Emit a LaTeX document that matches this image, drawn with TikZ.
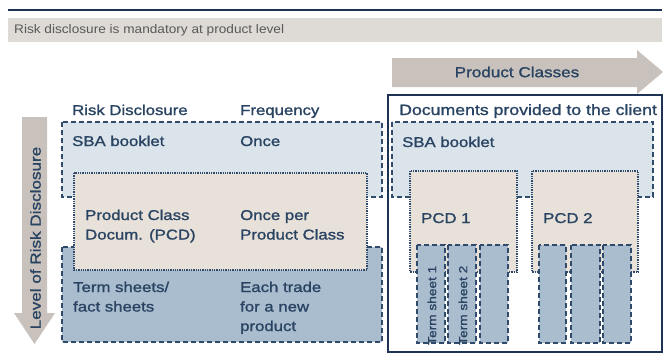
\documentclass[tikz,border=0pt]{standalone}
\usepackage{fontspec}
\setmainfont{Liberation Sans}[FakeStretch=1.18,FakeBold=1.3]
\newfontfamily\bandfont{Liberation Sans}[FakeStretch=1.1]
\usepackage{tikz}
\usetikzlibrary{positioning}
\definecolor{navyc}{HTML}{1E3354}
\definecolor{inkc}{HTML}{294362}
\definecolor{dashc}{HTML}{2F4A6B}
\definecolor{greyc}{HTML}{C9C2BC}
\definecolor{bandc}{HTML}{DEDAD6}
\definecolor{lightc}{HTML}{DCE4EB}
\definecolor{darkc}{HTML}{AABDCE}
\definecolor{beigec}{HTML}{E8E1D9}
\tikzset{
  lbl/.style={anchor=base west,inner sep=0pt,text=inkc,font=\fontsize{14.2}{19.5}\selectfont,align=left},
  dbox/.style={draw=dashc,line width=1.6pt,dash pattern=on 5pt off 3pt},
  pbox/.style={draw=dashc,line width=1.3pt,densely dotted,fill=beigec},
  colbox/.style={dbox,fill=darkc},
  vlbl/.style={inner sep=0pt,text=inkc,rotate=90,anchor=west,font=\fontsize{11.6}{12}\selectfont}
}
\begin{document}
\begin{tikzpicture}[x=1pt,y=-1pt]
\useasboundingbox (0,0) rectangle (671,362);
% banner
\draw[navyc,line width=1.4pt] (8,10) -- (662,10);
\fill[bandc] (8,18) rectangle (662,42);
\node[anchor=west,inner sep=0pt,text=black!65,font=\bandfont\fontsize{12.4}{13}\selectfont] (band) at (14,30) {Risk disclosure is mandatory at product level};
% arrows
\fill[greyc] (392,58) -- (637,58) -- (637,50) -- (663,72) -- (637,94) -- (637,87) -- (392,87) -- cycle;
\node[inkc,font=\fontsize{14.5}{16}\selectfont] (pclass) at (517,72) {Product Classes};
\fill[greyc] (22,117) -- (47,117) -- (47,313) -- (55,313) -- (34.5,344) -- (14,313) -- (22,313) -- cycle;
\node[inkc,rotate=90,font=\fontsize{14.5}{16}\selectfont] (level) at (35.5,238) {Level of Risk Disclosure};
% headers
\node[lbl] (hrisk) at (72,115) {Risk Disclosure};
\node[lbl] (hfreq) at (240,115) {Frequency};
\node[lbl,font=\fontsize{15}{18}\selectfont] (hdocs) at (399,115) {Documents provided to the client};
% left table
\filldraw[dbox,fill=lightc] (62,122) rectangle (382,197);
\filldraw[dbox,fill=darkc] (62,247) rectangle (382,342);
\filldraw[pbox] (74,173) rectangle (367,270);
\node[lbl] (sbaL) at (72,146) {SBA booklet};
\node[lbl] (once) at (240,146) {Once};
\node[lbl] (pcdL) at (85,239.5) {Product Class\\Docum. (PCD)};
\node[lbl] (oncepc) at (240,239.5) {Once per\\Product Class};
\node[lbl] (termL) at (73,311.5) {Term sheets/\\fact sheets};
\node[lbl] (each) at (240,331) {Each trade\\for a new\\product};
% documents provided to the client
\draw[navyc,line width=2.5pt] (388,95) rectangle (662,352);
\filldraw[dbox,fill=lightc] (392,122) rectangle (653,197);
\node[lbl] (sbaR) at (402,147) {SBA booklet};
\filldraw[pbox] (410,171) rectangle (517,272);
\filldraw[pbox] (532,171) rectangle (638,272);
\node[lbl] (pcdA) at (421,223) {PCD 1};
\node[lbl] (pcdB) at (543,223) {PCD 2};
\foreach \xa/\xb in {417/445,448/476,480/508,539/566,571/600,603/631}
  \filldraw[colbox] (\xa,245) rectangle (\xb,343);
\node[vlbl] (tsA) at (432,345) {Term sheet 1};
\node[vlbl] (tsB) at (463,345) {Term sheet 2};
\end{tikzpicture}
\end{document}
